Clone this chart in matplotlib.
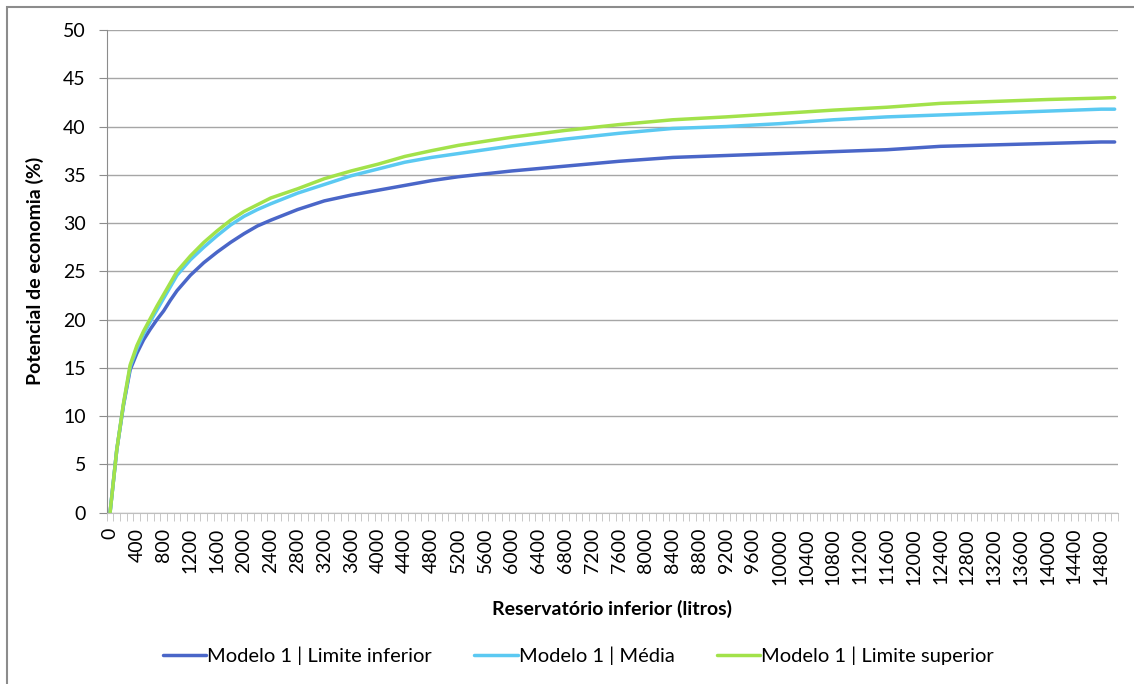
import numpy as np
import matplotlib.pyplot as plt
from matplotlib.patches import Rectangle

# reservatorio inferior (litros)
litros = [0, 100, 200, 300, 400, 500, 600, 700, 800, 900, 1000, 1200, 1400,
          1600, 1800, 2000, 2200, 2400, 2800, 3200, 3600, 4000, 4400, 4800,
          5200, 6000, 6800, 7600, 8400, 9200, 10000, 10800, 11600, 12400,
          13200, 14000, 14800, 15000]

lim_inferior = [0, 6.5, 11.1, 14.8, 16.5, 17.9, 19.0, 20.0, 20.9, 22.0, 23.0,
                24.6, 25.9, 27.0, 28.0, 28.9, 29.7, 30.3, 31.4, 32.3, 32.9,
                33.4, 33.9, 34.4, 34.8, 35.4, 35.9, 36.4, 36.8, 37.0, 37.2,
                37.4, 37.6, 37.95, 38.1, 38.25, 38.4, 38.4]
media = [0, 6.5, 11.2, 15.1, 17.0, 18.5, 19.8, 21.0, 22.2, 23.4, 24.6, 26.2,
         27.5, 28.7, 29.8, 30.7, 31.4, 32.0, 33.1, 34.0, 34.9, 35.6, 36.3,
         36.8, 37.2, 38.0, 38.7, 39.3, 39.8, 40.0, 40.3, 40.7, 41.0, 41.2,
         41.4, 41.6, 41.8, 41.8]
lim_superior = [0, 6.5, 11.3, 15.3, 17.3, 18.8, 20.1, 21.4, 22.6, 23.8, 25.0,
                26.6, 28.0, 29.2, 30.3, 31.2, 31.9, 32.6, 33.55, 34.6, 35.4,
                36.1, 36.9, 37.5, 38.05, 38.9, 39.6, 40.2, 40.7, 41.0, 41.35,
                41.7, 42.0, 42.4, 42.6, 42.8, 42.95, 43.0]

nomes = ["Modelo 1 | Limite inferior", "Modelo 1 | Média", "Modelo 1 | Limite superior"]
cores = ["#4a66c8", "#5bc9f2", "#a2e24a"]

plt.rcParams['font.family'] = ['Lato', 'DejaVu Sans']

fig = plt.figure(figsize=(11.34, 6.84), dpi=100)
ax = fig.add_axes([106.7/1134, 1 - 512.7/684, 1011.3/1134, 482.7/684])

for serie, nome, cor in zip([lim_inferior, media, lim_superior], nomes, cores):
    ax.plot(litros, serie, color=cor, lw=2.5, label=nome, solid_capstyle='round')

ax.set_xlim(-50, 15050)
ax.set_ylim(0, 50)
ax.set_yticks(np.arange(0, 51, 5))
ax.yaxis.grid(True, color='#a6a6a6', lw=1)
ax.set_axisbelow(True)
ax.tick_params(axis='y', labelsize=14, length=6, color='#8c8c8c', pad=9)

ax.set_xticks(np.arange(0, 14801, 400))
ax.set_xticks(np.arange(-50, 15051, 100), minor=True)
ax.tick_params(axis='x', which='major', length=0, labelsize=14, labelrotation=90, pad=11)
ax.tick_params(axis='x', which='minor', length=6, color='#bfbfbf')

for s in ['top', 'right']:
    ax.spines[s].set_visible(False)
ax.spines['left'].set_color('#8c8c8c')
ax.spines['bottom'].set_color('#bfbfbf')

ax.set_ylabel("Potencial de economia (%)", fontsize=14, fontweight='bold')
ax.yaxis.set_label_coords(-0.062, 0.5)
ax.set_xlabel("Reservatório inferior (litros)", fontsize=14, fontweight='bold')
ax.xaxis.set_label_coords(0.5, -0.181)

fig.legend(loc='center', bbox_to_anchor=(0.51, 1 - 656/684), ncol=3, frameon=False,
           fontsize=14.5, handlelength=2.15, handletextpad=0.05, columnspacing=2.1)

# chart area border
fig.patches.append(Rectangle((7/1134, -0.1), 1.2, 1 - 7/684 + 0.1, transform=fig.transFigure,
                             fill=False, edgecolor='#8c8c8c', lw=1.5))

fig.savefig("out.png", dpi=100)
